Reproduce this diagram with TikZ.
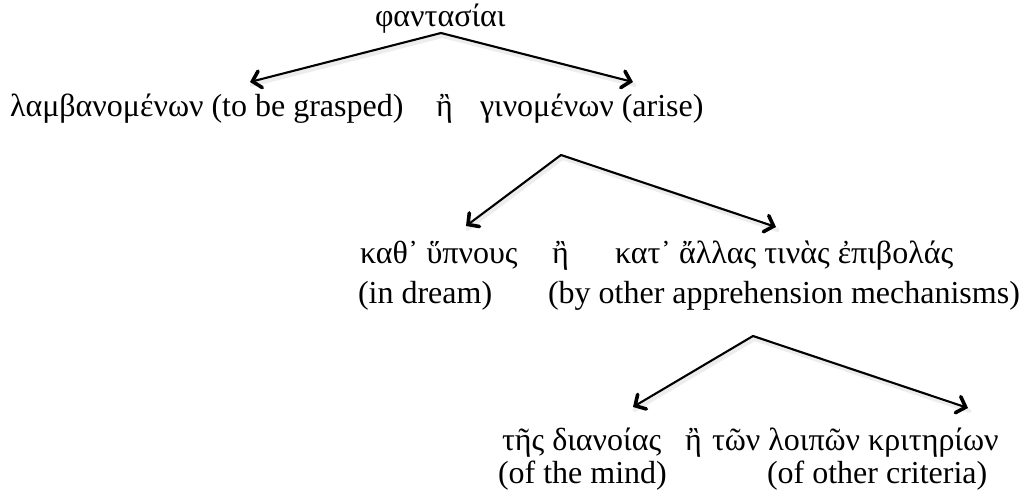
\documentclass[tikz,border=0pt]{standalone}
\usepackage{fontspec}
\setmainfont{Liberation Serif}
\usetikzlibrary{arrows.meta}

\tikzset{
  lbl/.style={anchor=base west, inner sep=0pt, outer sep=0pt,
              font=\fontsize{32}{36}\selectfont},
  branch/.style={line width=2.1pt, line cap=round, line join=miter,
                 -{Straight Barb[length=8pt, width=17pt, line width=3.6pt, line cap=round]}},
  branchshadow/.style={line width=4pt, draw=black, opacity=0.07, line cap=round},
}

\begin{document}
\begin{tikzpicture}[x=1pt, y=-1pt]
  \useasboundingbox (0,0) rectangle (1023,492);

  % level 0
  \node[lbl] (root) at (375,27) {φαντασίαι};
  \coordinate (a0) at (441,33);
  \coordinate (t0l) at (250,82);
  \coordinate (t0r) at (633,82);

  % level 1
  \node[lbl] (grasp) at (10,117) {λαμβανομένων (to be grasped)};
  \node[lbl] (or1)   at (436,117) {ἢ};
  \node[lbl] (arise) at (480,117) {γινομένων (arise)};
  \coordinate (a1) at (561,155);
  \coordinate (t1l) at (466,226);
  \coordinate (t1r) at (776,227);

  % level 2
  \node[lbl] (sleep)  at (360,263) {καθ᾽ ὕπνους};
  \node[lbl] (or2)    at (552,263) {ἢ};
  \node[lbl] (other)  at (615,263) {κατ᾽ ἄλλας τινὰς ἐπιβολάς};
  \node[lbl] (sleepE) at (358,303) {(in dream)};
  \node[lbl] (otherE) at (548,303) {(by other apprehension mechanisms)};
  \coordinate (a2) at (753,336);
  \coordinate (t2l) at (633,407);
  \coordinate (t2r) at (968,408);

  % level 3
  \node[lbl] (mind)   at (502,450) {τῆς διανοίας};
  \node[lbl] (or3)    at (685,450) {ἢ};
  \node[lbl] (crit)   at (712,450) {τῶν λοιπῶν κριτηρίων};
  \node[lbl] (mindE)  at (498,483) {(of the mind)};
  \node[lbl] (critE)  at (767,483) {(of other criteria)};

  % soft shadows under the branches
  \foreach \a/\l/\r in {a0/t0l/t0r, a1/t1l/t1r, a2/t2l/t2r}{
    \draw[branchshadow, transform canvas={shift={(1.5pt,-3pt)}}]
      (\l) -- (\a) -- (\r);
  }

  % branches
  \draw[branch] (a0) -- (t0l);
  \draw[branch] (a0) -- (t0r);
  \draw[branch] (a1) -- (t1l);
  \draw[branch] (a1) -- (t1r);
  \draw[branch] (a2) -- (t2l);
  \draw[branch] (a2) -- (t2r);
\end{tikzpicture}
\end{document}
